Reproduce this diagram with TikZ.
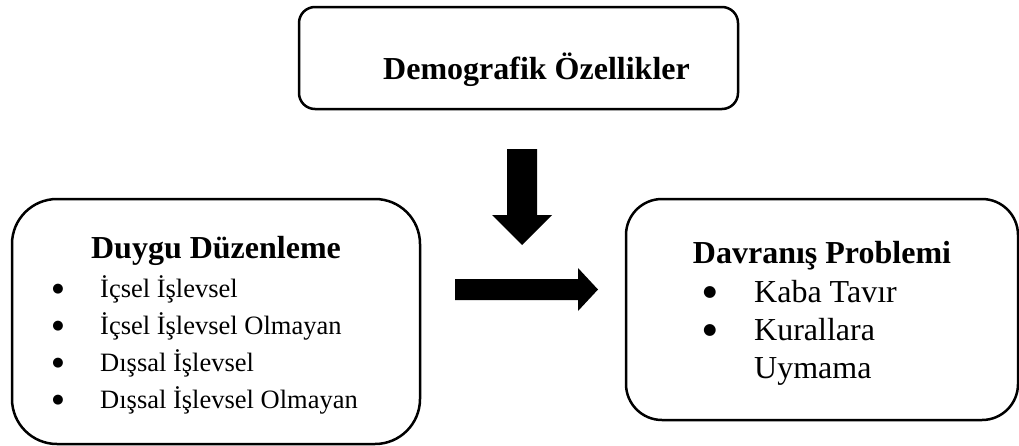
\documentclass[tikz,border=0pt]{standalone}
\usepackage{fontspec}
\setmainfont{Liberation Serif}
\newfontfamily\dejavu{DejaVu Sans}
\begin{document}
\begin{tikzpicture}[x=1pt,y=-1pt,
  box/.style={draw, line width=2.5pt, inner sep=0pt},
  titletext/.style={font=\fontsize{32}{38}\selectfont\bfseries, anchor=base, inner sep=0pt},
  smallitem/.style={font=\fontsize{26.5}{32}\selectfont, anchor=base west, inner sep=0pt},
  smallbullet/.style={font=\dejavu\fontsize{13}{15}\selectfont, anchor=center, inner sep=0pt},
  bigitem/.style={font=\fontsize{32}{38}\selectfont, anchor=base west, inner sep=0pt},
  bigbullet/.style={font=\dejavu\fontsize{15.5}{18}\selectfont, anchor=center, inner sep=0pt}]
\useasboundingbox (0,0) rectangle (1019,445);

% boxes
\node[box, rounded corners=16pt, minimum width=439pt, minimum height=102pt] (demo) at (518.5,58) {};
\node[box, rounded corners=45pt, minimum width=408pt, minimum height=245pt] (duygu) at (216,321.5) {};
\node[box, rounded corners=36pt, minimum width=392pt, minimum height=221pt] (davr) at (822,309.5) {};

% texts
\node[titletext, anchor=base west] (demot) at (383,79) {Demografik Özellikler};
\node[titletext] (duygut) at (216,258) {Duygu Düzenleme};
\node[titletext] (davrt) at (822,263) {Davranış Problemi};

\node[smallbullet] (b1) at (58,289) {●};
\node[smallbullet] (b2) at (58,326) {●};
\node[smallbullet] (b3) at (58,363) {●};
\node[smallbullet] (b4) at (58,400) {●};
\node[smallitem] (i1) at (100,297) {İçsel İşlevsel};
\node[smallitem] (i2) at (100,334) {İçsel İşlevsel Olmayan};
\node[smallitem] (i3) at (100,371) {Dışsal İşlevsel};
\node[smallitem] (i4) at (100,408) {Dışsal İşlevsel Olmayan};

\node[bigbullet] (c1) at (710,292) {●};
\node[bigbullet] (c2) at (710,330) {●};
\node[bigitem] (j1) at (754,302) {Kaba Tavır};
\node[bigitem] (j2) at (754,340) {Kurallara};
\node[bigitem] (j3) at (754,378) {Uymama};

% block arrows
\coordinate (dstart) at (522,149);
\coordinate (dtip) at (522,245);
\fill (dstart) ++(-15,0) -- ++(30,0) -- ++(0,66) -- ++(15,0) -- (dtip) -- ++(-30,-30) -- ++(15,0) -- cycle;

\coordinate (rstart) at (455,289.5);
\coordinate (rtip) at (598,289.5);
\fill (rstart) ++(0,-10.5) -- ++(123,0) -- ++(0,-11) -- (rtip) -- ++(-20,21.5) -- ++(0,-11) -- ++(-123,0) -- cycle;
\end{tikzpicture}
\end{document}
